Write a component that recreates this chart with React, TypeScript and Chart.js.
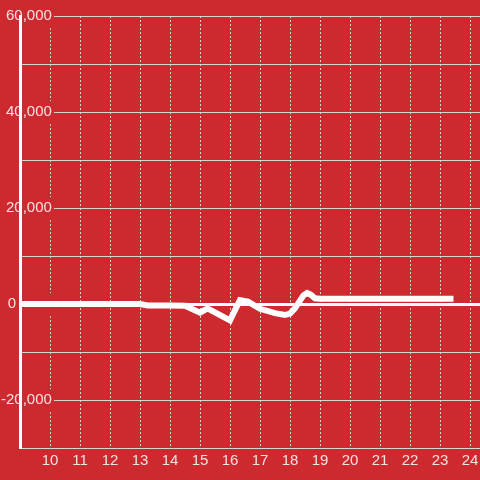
import { useEffect, useRef } from 'react';
import { Chart, registerables } from 'chart.js';

Chart.register(...registerables);

const BG = '#cd2a2f';
const GRID = '#d6d6d6';
const TEXT = '#f2e2e2';
const FONT = '"Liberation Sans", Arial, sans-serif';

// Hour of day (x) and value (y)
const HOURS = [8.5, 9, 10, 11, 12, 13, 13.25, 14, 14.5, 15, 15.25, 16, 16.33, 16.6, 17, 17.5, 17.83, 18.0, 18.15, 18.3, 18.45, 18.57, 18.7, 18.83, 19, 20, 21, 22, 23, 23.45];
const VALUES = [0, 0, 0, 0, 0, 0, -300, -300, -350, -1800, -900, -3400, 800, 500, -1000, -1900, -2300, -2000, -1000, 400, 1800, 2300, 1900, 1200, 1100, 1100, 1100, 1100, 1100, 1100];

const X_TICKS = [10, 11, 12, 13, 14, 15, 16, 17, 18, 19, 20, 21, 22, 23, 24];
const Y_MIN = -30000;
const Y_MAX = 60000;
const Y_STEP = 10000;
const Y_LABEL_STEP = 20000;

export default function App() {
  const ref = useRef<HTMLCanvasElement>(null);
  useEffect(() => {
    const chart = new Chart(ref.current!, {
      type: 'line',
      data: {
        datasets: [
          {
            data: HOURS.map((h, i) => ({ x: h, y: VALUES[i] })),
            borderColor: '#ffffff',
            borderWidth: 6,
            pointRadius: 0,
            tension: 0,
            fill: false,
            borderCapStyle: 'butt',
          },
        ],
      },
      options: {
        responsive: false,
        animation: false,
        layout: { padding: { top: 16, left: 0, right: 0, bottom: 0 } },
        plugins: { legend: { display: false }, tooltip: { enabled: false } },
        scales: {
          x: {
            type: 'linear',
            min: 9,
            max: 24.3333,
            afterBuildTicks: (s: any) => {
              s.ticks = X_TICKS.map((v) => ({ value: v }));
            },
            afterFit: (s: any) => {
              s.height = 32;
              s.paddingLeft = 0;
              s.paddingRight = 0;
            },
            grid: { color: GRID, lineWidth: 1, drawTicks: false },
            border: { color: GRID, width: 1, dash: [2, 2] },
            ticks: {
              color: TEXT,
              font: { size: 15, family: FONT },
              padding: 4,
              maxRotation: 0,
              autoSkip: false,
              callback: (v: any) => String(v),
            },
          },
          y: {
            type: 'linear',
            min: Y_MIN,
            max: Y_MAX,
            afterFit: (s: any) => {
              s.width = 20;
              s.paddingTop = 0;
              s.paddingBottom = 0;
            },
            grid: {
              drawTicks: false,
              color: (ctx: any) => (ctx.tick && ctx.tick.value === 0 ? '#ffffff' : GRID),
              lineWidth: (ctx: any) => (ctx.tick && ctx.tick.value === 0 ? 3 : 1),
            },
            border: { color: '#ffffff', width: 3, z: 1 },
            ticks: {
              stepSize: Y_STEP,
              color: TEXT,
              font: { size: 15, family: FONT },
              mirror: true,
              crossAlign: 'far',
              padding: -19,
              autoSkip: false,
              showLabelBackdrop: (ctx: any) => ctx.tick && ctx.tick.value % Y_LABEL_STEP === 0,
              backdropColor: BG,
              backdropPadding: 2,
              callback: (v: any) => {
                const n = Number(v);
                if (n % Y_LABEL_STEP !== 0) return '';
                if (n === 0) return '0        \u2006';
                return n.toLocaleString('en-US');
              },
            },
          },
        },
      },
    });
    return () => chart.destroy();
  }, []);
  return (
    <div style={{ position: 'fixed', left: 0, top: 0, width: 480, height: 480, background: BG }}>
      <canvas ref={ref} width={480} height={480} style={{ display: 'block' }} />
    </div>
  );
}
